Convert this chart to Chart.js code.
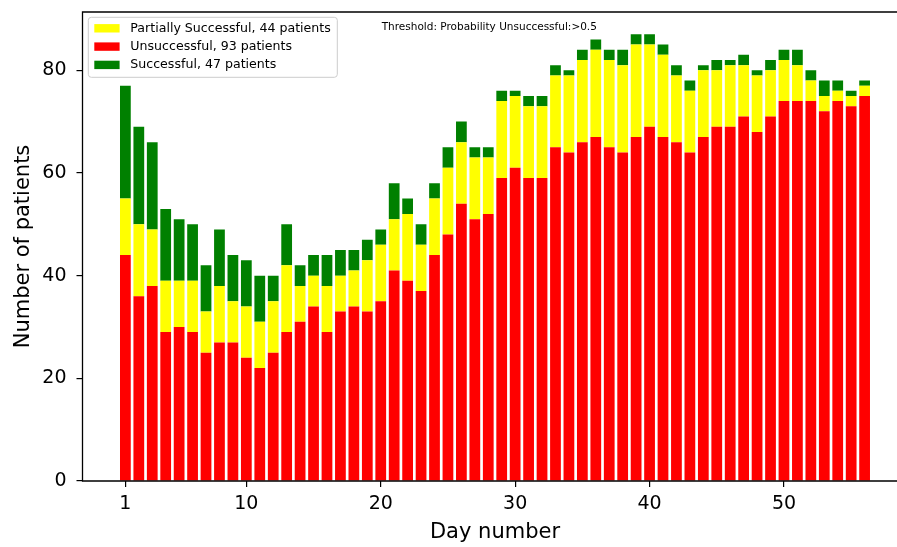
<!DOCTYPE html>
<html>
<head>
<meta charset="utf-8">
<script src="https://cdn.jsdelivr.net/npm/chart.js@4.4.1/dist/chart.umd.min.js"></script>
<style>
  html, body { margin: 0; padding: 0; background: #fff; overflow: hidden; }
  #wrap { width: 897px; height: 547px; }
</style>
</head>
<body>
<div id="wrap"><canvas id="grafico"></canvas></div>
<script>
// Dados

const dias = [1, 2, 3, 4, 5, 6, 7, 8, 9, 10, 11, 12, 13, 14, 15, 16, 17, 18, 19, 20,
  21, 22, 23, 24, 25, 26, 27, 28, 29, 30, 31, 32, 33, 34, 35, 36, 37, 38, 39, 40,
  41, 42, 43, 44, 45, 46, 47, 48, 49, 50, 51, 52, 53, 54, 55, 56];

const malSucedidos = [44, 36, 38, 29, 30, 29, 25, 27, 27, 24, 22, 25, 29, 31, 34, 29, 33, 34, 33, 35,
  41, 39, 37, 44, 48, 54, 51, 52, 59, 61, 59, 59, 65, 64, 66, 67, 65, 64, 67, 69,
  67, 66, 64, 67, 69, 69, 71, 68, 71, 74, 74, 74, 72, 74, 73, 75];

const parciais = [11, 14, 11, 10, 9, 10, 8, 11, 8, 10, 9, 10, 13, 7, 6, 9, 7, 7, 10, 11,
  10, 13, 9, 11, 13, 12, 12, 11, 15, 14, 14, 14, 14, 15, 16, 17, 17, 17, 18, 16,
  16, 13, 12, 13, 11, 12, 10, 11, 9, 8, 7, 4, 3, 2, 2, 2];

const sucedidos = [22, 19, 17, 14, 12, 11, 9, 11, 9, 9, 9, 5, 8, 4, 4, 6, 5, 4, 4, 3,
  7, 3, 4, 3, 4, 4, 2, 2, 2, 1, 2, 2, 2, 1, 2, 2, 2, 3, 2, 2,
  2, 2, 2, 1, 2, 1, 2, 1, 2, 2, 3, 2, 3, 2, 1, 1];

const rotulos = ["Unsuccessful, 93 patients", "Partially Successful, 44 patients", "Successful, 47 patients"];
const ordemLegenda = [1, 0, 2];
const ticksX = [1, 10, 20, 30, 40, 50];
const ticksY = [0, 20, 40, 60, 80];
const textoLimiar = "Threshold: Probability Unsuccessful:>0.5";
const tituloX = "Day number";

const fonte = "'DejaVu Sans', sans-serif";
const centroEixoX = 28.5; // meio do eixo completo (o original está cortado à direita)

// Moldura: topo, esquerda e base (a direita fica fora da imagem)
const moldura = {
  id: 'moldura',
  afterDatasetsDraw(chart) {
    const { ctx, chartArea } = chart;
    ctx.save();
    ctx.strokeStyle = '#000';
    ctx.lineWidth = 1.3;
    ctx.beginPath();
    ctx.moveTo(chartArea.right + 2, chartArea.top);
    ctx.lineTo(chartArea.left, chartArea.top);
    ctx.lineTo(chartArea.left, chartArea.bottom);
    ctx.lineTo(chartArea.right + 2, chartArea.bottom);
    ctx.stroke();
    ctx.restore();
  }
};

// Legenda desenhada dentro da área, como no original
const legendaInterna = {
  id: 'legendaInterna',
  afterDraw(chart) {
    const { ctx, chartArea } = chart;
    const x = chartArea.left + 5.8;
    const y = chartArea.top + 5.3;
    ctx.save();
    ctx.fillStyle = 'rgba(255,255,255,0.8)';
    ctx.strokeStyle = '#cccccc';
    ctx.lineWidth = 1;
    ctx.beginPath();
    ctx.roundRect(x, y, 249, 60, 3);
    ctx.fill();
    ctx.stroke();

    ctx.font = "12.6px " + fonte;
    ctx.textBaseline = 'middle';
    ordemLegenda.forEach((i, linha) => {
      const ds = chart.data.datasets[i];
      const cy = y + 11 + linha * 18.3;
      ctx.fillStyle = ds.backgroundColor;
      ctx.fillRect(x + 6, cy - 4.2, 25.3, 8.4);
      ctx.fillStyle = '#000';
      ctx.fillText(ds.label, x + 42, cy);
    });

    ctx.font = "10.5px " + fonte;
    ctx.fillText(textoLimiar, 381.7, 27);

    // título do eixo x, centrado no eixo inteiro
    ctx.font = "21px " + fonte;
    ctx.textAlign = 'center';
    ctx.fillText(tituloX, chart.scales.x.getPixelForValue(centroEixoX), 533);
    ctx.restore();
  }
};

const ctx = document.getElementById('grafico').getContext('2d');
new Chart(ctx, {
  type: 'bar',
  data: {
    labels: dias,
    datasets: [
      { label: rotulos[0], data: malSucedidos, backgroundColor: '#ff0000' },
      { label: rotulos[1], data: parciais, backgroundColor: '#ffff00' },
      { label: rotulos[2], data: sucedidos, backgroundColor: '#008000' }
    ]
  },
  options: {
    responsive: true,
    maintainAspectRatio: false,
    animation: false,
    categoryPercentage: 1,
    barPercentage: 0.8,
    layout: { padding: { top: 12, right: 0, left: 0, bottom: 0 } },
    plugins: {
      legend: { display: false },
      tooltip: { enabled: false }
    },
    scales: {
      x: {
        type: 'linear',
        stacked: true,
        offset: false,
        min: -2.19,
        max: 58.41,
        afterBuildTicks: (s) => { s.ticks = ticksX.map(v => ({ value: v })); },
        afterFit: (s) => { s.height = 66; s.paddingLeft = 0; s.paddingRight = 0; },
        border: { display: false },
        grid: { offset: false, drawOnChartArea: false, drawTicks: true, tickLength: 6, color: '#000', lineWidth: 1.2 },
        ticks: { color: '#000', font: { family: fonte, size: 19 }, padding: 6, maxRotation: 0 }
      },
      y: {
        stacked: true,
        min: 0,
        max: 91.35,
        afterBuildTicks: (s) => { s.ticks = ticksY.map(v => ({ value: v })); },
        afterFit: (s) => { s.width = 82.5; s.paddingTop = 0; s.paddingBottom = 0; },
        border: { display: false },
        grid: { drawOnChartArea: false, drawTicks: true, tickLength: 6, color: '#000', lineWidth: 1.2 },
        ticks: { color: '#000', font: { family: fonte, size: 19 }, padding: 10 },
        title: { display: true, text: 'Number of patients', color: '#000', font: { family: fonte, size: 21 }, padding: { top: 11.4, bottom: 0 } }
      }
    }
  },
  plugins: [moldura, legendaInterna]
});
</script>
</body>
</html>
